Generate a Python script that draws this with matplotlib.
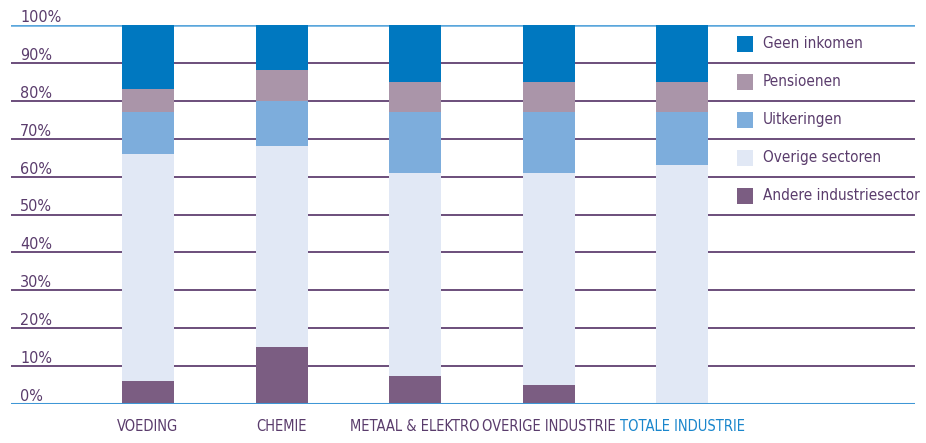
import matplotlib
matplotlib.use("Agg")
import matplotlib.pyplot as plt
from matplotlib import font_manager as fm
import numpy as np

categories = ["VOEDING", "CHEMIE", "METAAL & ELEKTRO", "OVERIGE INDUSTRIE", "TOTALE INDUSTRIE"]
andere = [6, 15, 7.5, 5, 0]
overige = [60, 53, 53.5, 56, 63]
uitkeringen = [11, 12, 16, 16, 14]
pensioenen = [6, 8, 8, 8, 8]
geen = [17, 12, 15, 15, 15]
yticks = [0, 10, 20, 30, 40, 50, 60, 70, 80, 90, 100]
ytick_labels = ["0%", "10%", "20%", "30%", "40%", "50%", "60%", "70%", "80%", "90%", "100%"]
series_names = ["Andere industriesector", "Overige sectoren", "Uitkeringen", "Pensioenen", "Geen inkomen"]
colors = ["#7B5D82", "#E1E8F5", "#7DADDC", "#AA95A9", "#0078C0"]

# choose a condensed font file if one is installed
cond_file = None
for f in fm.fontManager.ttflist:
    if "narrow" in f.fname.lower() and "liberation" in f.fname.lower() and "bold" not in f.fname.lower() and "italic" not in f.fname.lower():
        cond_file = f.fname
        break
if cond_file is None:
    for f in fm.fontManager.ttflist:
        fl = f.fname.lower()
        if "dejavusanscondensed.ttf" in fl:
            cond_file = f.fname
            break


def fp(size):
    if cond_file:
        return fm.FontProperties(fname=cond_file, size=size)
    return fm.FontProperties(family="DejaVu Sans", size=size * 0.85)


purple_txt = "#5A3C6C"
grid_col = "#6B4E7B"
blue_line = "#3F97D6"

fig = plt.figure(figsize=(9.26, 4.43), dpi=100)
W, H = 926, 443
left_px, right_px, top_px, bot_px = 11, 915, 25, 404
ax = fig.add_axes([left_px / W, 1 - bot_px / H, (right_px - left_px) / W, (bot_px - top_px) / H])

x = np.arange(len(categories))
spacing = 133.5
xmin = -(148 - left_px) / spacing
xmax = (right_px - 148) / spacing
ax.set_xlim(xmin, xmax)
ax.set_ylim(0, 100)

for v in yticks[1:-1]:
    ax.axhline(v, color=grid_col, lw=1.4, zorder=1)
ax.axhline(100, color="#5AA6DC", lw=1.8, zorder=1)
ax.axhline(0, color=blue_line, lw=2.2, zorder=4)

bar_w = 52 / spacing
bottom = np.zeros(len(categories))
for name, vals, c in zip(series_names, [andere, overige, uitkeringen, pensioenen, geen], colors):
    vals = np.array(vals, dtype=float)
    ax.bar(x, vals, bottom=bottom, width=bar_w, color=c, zorder=3, linewidth=0)
    bottom += vals

for s in ax.spines.values():
    s.set_visible(False)
ax.set_yticks([])
ax.set_xticks(x)
ax.set_xticklabels(categories)
ax.tick_params(axis="x", length=0, pad=11)
for i, lbl in enumerate(ax.get_xticklabels()):
    lbl.set_fontproperties(fp(10.5))
    lbl.set_color("#1A86CC" if i == len(categories) - 1 else purple_txt)

ytr = ax.get_yaxis_transform()
for v, t in zip(yticks, ytick_labels):
    ax.text((20 - left_px) / (right_px - left_px), v + 0.8, t, transform=ytr,
            ha="left", va="baseline", color=purple_txt, fontproperties=fp(11.5))

leg_order = list(zip(series_names, colors))[::-1]
sq_x = (745 - left_px) / (right_px - left_px)
tx_x = (763 - left_px) / (right_px - left_px)
for i, (name, c) in enumerate(leg_order):
    yc = 95 - 10 * i
    ax.plot([sq_x], [yc], marker="s", markersize=11.5, color=c, transform=ytr,
            zorder=5, clip_on=False, markeredgewidth=0)
    ax.text(tx_x, yc, name, transform=ytr, ha="left", va="center",
            color=purple_txt, fontproperties=fp(11), zorder=5)

fig.savefig("out.png", dpi=100)
